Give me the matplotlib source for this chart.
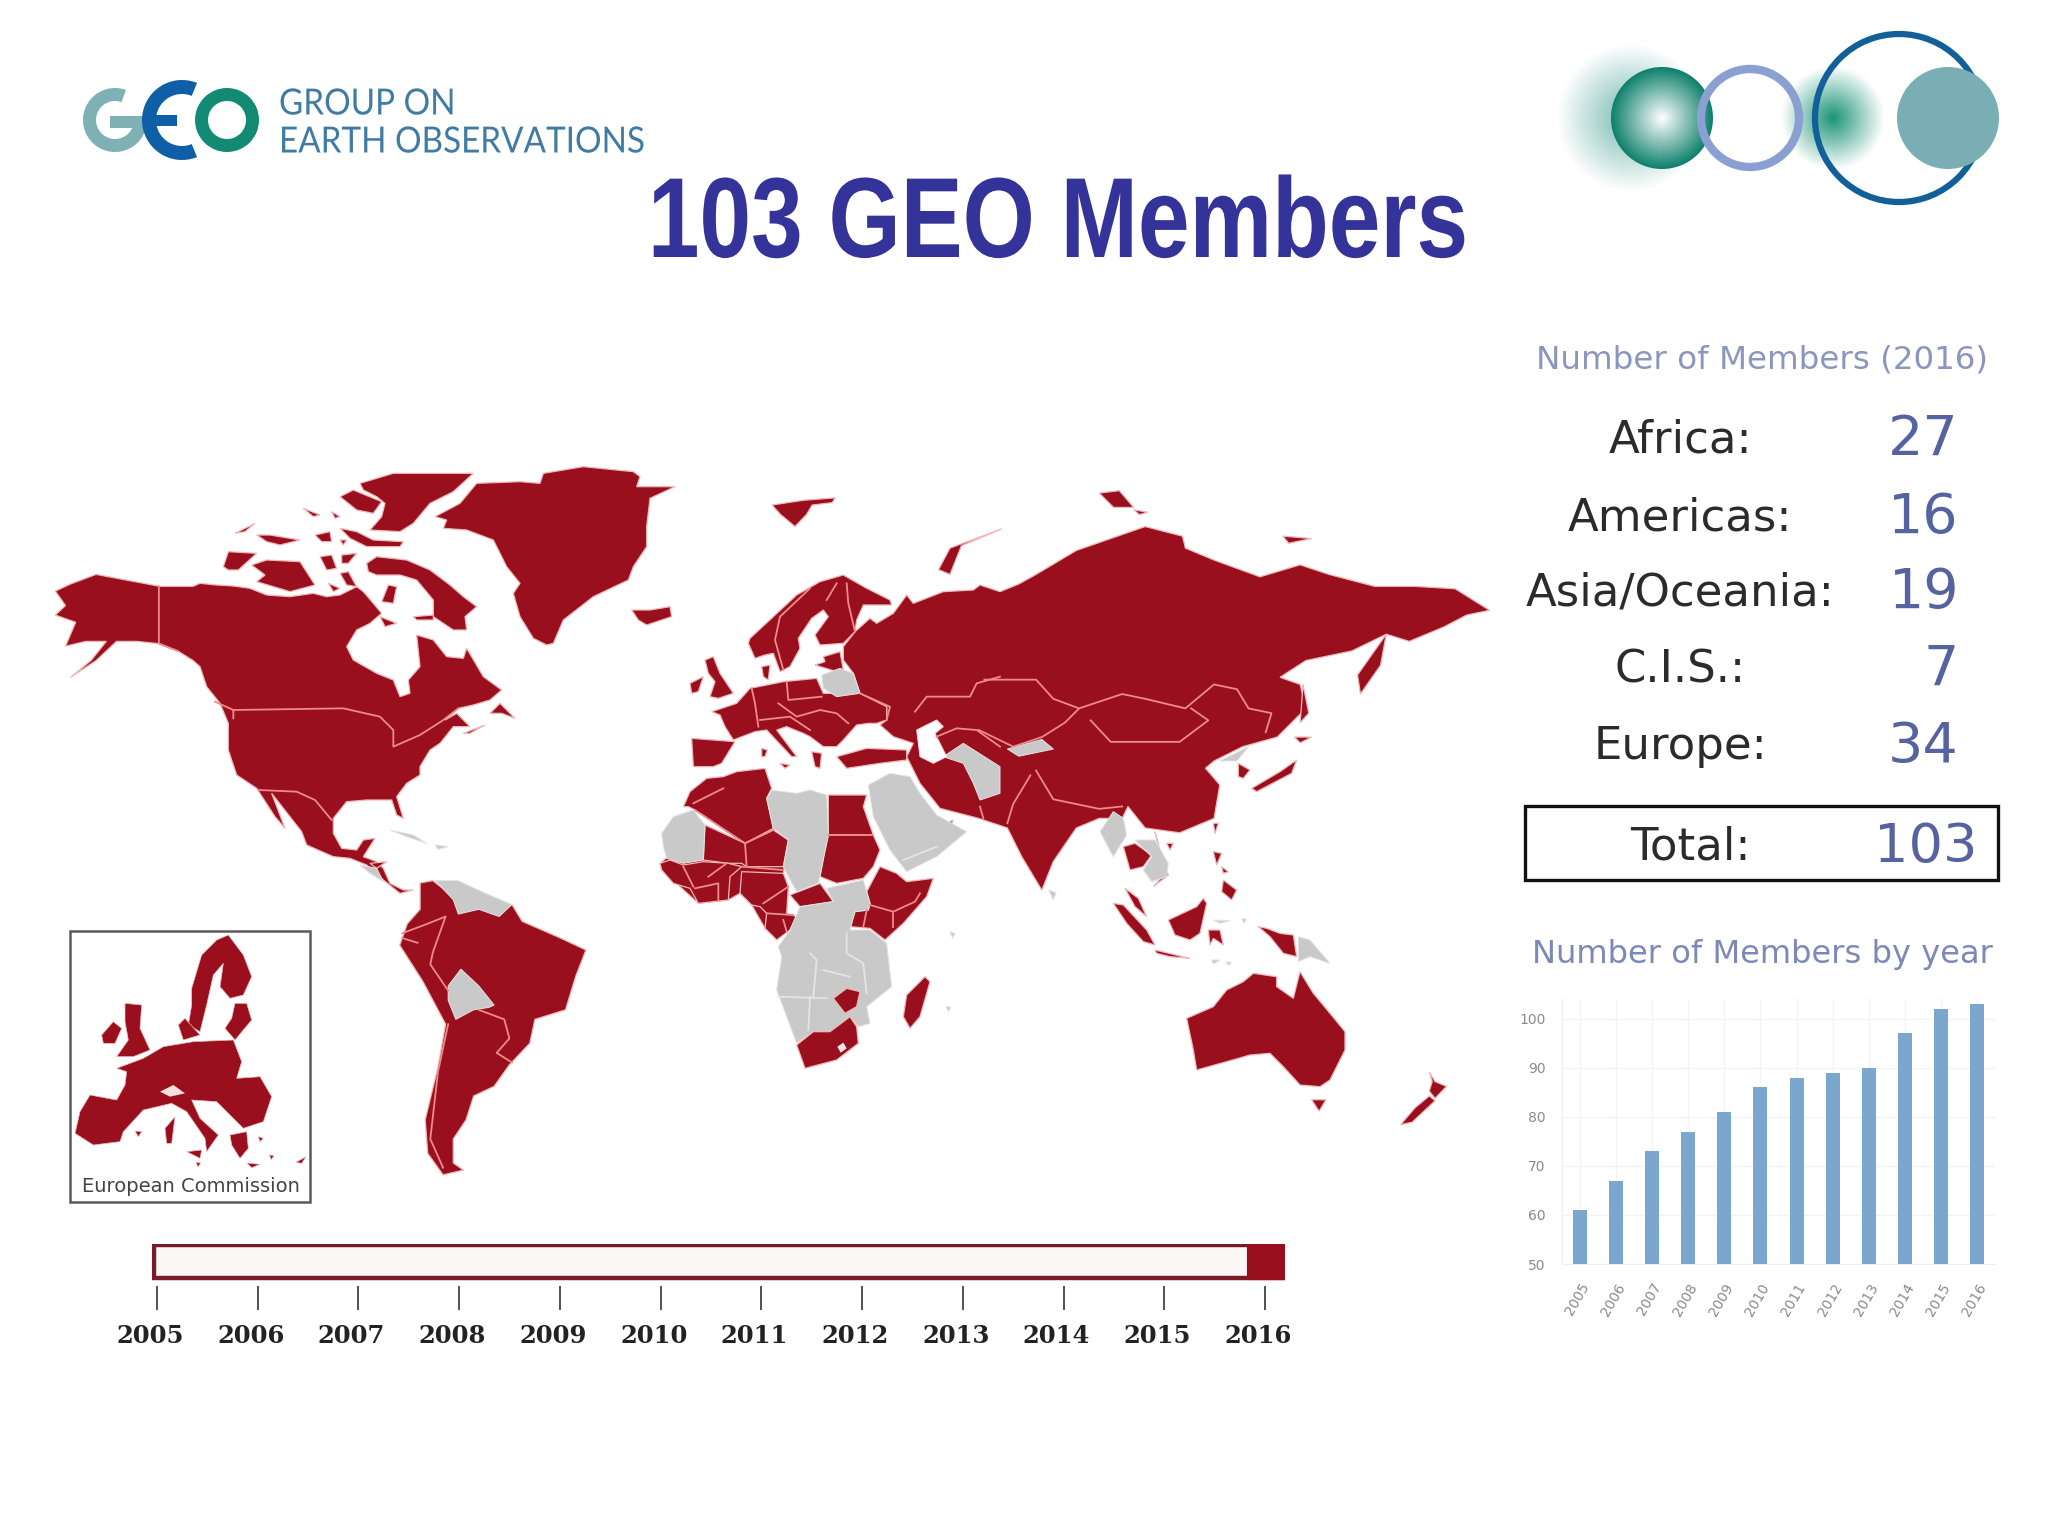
import numpy as np
import matplotlib
matplotlib.use('Agg')
import matplotlib.pyplot as plt
import matplotlib.patheffects as pe
from matplotlib.patches import Circle, Wedge, Rectangle
from matplotlib.transforms import Affine2D, ScaledTranslation

W, H = 2048, 1536
RED = '#9a0f1e'
GREY = '#c9c9c9'
BORDER = '#ec8a8c'

# bar chart data
years = list(range(2005, 2017))
members = [61, 67, 73, 77, 81, 86, 88, 89, 90, 97, 102, 103]

# table data
regions = ['Africa:', 'Americas:', 'Asia/Oceania:', 'C.I.S.:', 'Europe:']
region_counts = [27, 16, 19, 7, 34]
total = 103

# map outlines traced by hand from crops of the picture
# --- americas crop
alaska = [(300,440),(270,420),(235,405),(190,400),(150,400),(110,440),(60,475),(100,440),(130,400),(90,400),(50,410),
    (70,360),(30,345),(50,325),(30,295),(60,280),(110,260),(160,270),(235,285),(300,285)]
north_america = [(0,370),(50,375),(100,378),(150,385),(200,405),(270,410),(340,400),(380,410),(420,405),(470,380),(490,395),
    (520,430),(545,460),(510,490),(470,510),(440,560),(460,600),(530,640),(580,660),(600,710),(630,700),(625,660),(660,620),
    (650,525),(700,540),(740,590),(790,595),(800,565),(850,650),(905,690),(870,720),(820,735),(775,745),(735,780),(770,760),
    (810,800),(760,800),(720,850),(690,870),(660,920),(660,945),(620,970),(590,1010),(610,1075),(590,1065),(575,1020),
    (500,1020),(440,1025),(400,1075),(400,1120),(425,1165),(470,1170),(490,1140),(525,1135),(490,1190),(530,1205),(550,1225),
    (570,1270),(610,1290),(640,1290),(600,1300),(550,1260),(500,1215),(450,1195),(400,1190),(320,1155),(305,1115),(215,1000),
    (255,1105),(225,1070),(170,985),(110,945),(85,870),(85,790),(60,730),(20,680),(0,620)]
greenland = [(705,170),(780,130),(830,70),(960,65),(1020,70),(1030,40),(1150,20),(1300,35),(1320,50),(1310,80),(1425,80),
    (1350,115),(1340,200),(1340,260),(1300,320),(1285,360),(1180,410),(1090,480),(1060,550),(1040,555),(1000,535),(960,470),
    (940,400),(960,370),(920,320),(880,240),(800,210),(730,205),(740,180)]
arctic_islands = [
    [(480,70),(580,40),(820,40),(760,95),(690,130),(640,190),(600,215),(510,210),(545,170),(555,130),(530,110),(490,90)],
    [(420,110),(460,90),(545,125),(520,160),(470,150)],
    [(420,205),(470,215),(520,240),(610,245),(600,260),(500,260),(450,235)],
    [(500,310),(530,290),(620,300),(690,330),(750,375),(790,410),(830,440),(795,470),(800,510),(760,510),(700,470),(700,420),
     (650,360),(600,345),(530,345),(505,335)],
    [(155,315),(200,300),(300,305),(345,375),(270,395),(170,365),(195,345)],
    [(70,320),(85,275),(170,280),(115,330),(85,330)],
    [(170,225),(210,225),(300,240),(240,255),(200,245)],
    [(105,220),(165,190),(135,215)],
    [(345,225),(390,215),(395,245),(365,245)],
    [(360,290),(395,285),(410,325),(380,330)],
    [(425,285),(470,280),(445,310),(425,310)],
    [(420,340),(445,335),(470,380),(440,375)],
    [(565,375),(590,380),(580,430),(545,425)],
    [(540,470),(590,490),(555,500)],
    [(640,470),(700,465),(700,480),(650,480)],
    [(310,145),(360,165),(340,170)],
    [(395,155),(420,170),(405,175)],
    [(420,240),(440,240),(430,255)],
    [(385,370),(420,385),(400,395)],
    [(870,760),(900,730),(945,775),(905,760)],
    [(790,820),(855,795),(810,820)],
    [(1295,450),(1350,450),(1410,440),(1415,470),(1340,495),(1315,480)],
    [(510,1210),(560,1205),(530,1225)],
]
caribbean_grey = [
    [(570,1110),(640,1125),(680,1150),(620,1130)],
    [(705,1155),(745,1160),(715,1168)],
    [(480,1215),(530,1225),(550,1265),(510,1240)],
]
america_borders = [
    [(100,750),(430,745),(540,770),(580,810),(580,860),(660,825),(730,780),(775,745)],
    [(175,990),(290,995),(345,1020),(395,1080)],
    [(45,725),(100,750),(100,775)],
]
# --- west half crop, south america and alaska border
south_america = [(745,905),(770,900),(800,925),(860,960),(925,950),(945,985),(1020,1020),(1070,1045),(1050,1100),
    (1030,1170),(970,1190),(960,1240),(920,1285),(890,1330),(850,1350),(835,1400),(810,1440),(810,1490),(830,1505),
    (790,1515),(760,1470),(755,1400),(780,1290),(795,1200),(750,1110),(705,1035),(720,990),(745,960)]
sa_grey = [
    [(800,1120),(825,1085),(860,1120),(890,1160),(880,1165),(850,1170),(815,1190),(800,1150)],
    [(775,900),(820,900),(870,925),(925,950),(900,975),(860,960),(820,970),(810,940)],
]
west_borders = [
    [(233,285),(233,405),(270,420)],
    [(710,1010),(760,990),(795,975),(770,1050),(765,1075),(800,1130)],
    [(800,1200),(780,1300),(765,1440),(790,1500)],
    [(860,1170),(910,1190),(920,1230),(895,1260),(925,1280)],
    [(710,1020),(740,1030)],
]
# --- europe crop
asia_west = [(490,260),(525,215),(570,175),(590,190),(640,160),(680,105),(700,130),(790,95),(880,90),(900,75),(960,95)]
asia_south = [(780,745),(720,670),(690,610),(680,590),(700,550),(640,530),(600,495),(620,480),(620,440),(540,400),(520,340),(490,300)]
europe = [(95,455),(170,430),(210,385),(310,365),(410,355),(430,400),(540,400),(620,440),(620,480),(590,490),(565,490),(530,495),
    (490,540),(470,560),(430,560),(390,530),(370,520),(320,500),(290,510),(350,590),(335,590),(260,510),(225,515),(160,540),
    (135,500),(120,465)]
scandinavia = [(210,235),(280,170),(350,105),(420,65),(490,45),(560,85),(630,120),(635,135),(550,135),(530,180),(525,215),(490,250),
    (420,255),(405,225),(445,170),(430,150),(395,175),(355,235),(360,265),(330,320),(300,335),(280,280),(255,285),(225,295),(205,250)]
europe_red = [
    [(395,575),(425,580),(420,625),(405,620)],
    [(35,535),(165,545),(125,610),(100,620),(40,620)],
    [(75,300),(100,290),(120,340),(160,400),(115,415),(90,410),(105,365),(85,340)],
    [(30,370),(70,350),(55,395),(35,400)],
    [(245,320),(270,315),(265,360),(250,350)],
    [(430,290),(480,275),(490,330),(470,335),(405,315),(435,305)],
    [(470,590),(560,565),(680,570),(680,600),(600,610),(500,625)],
    [(245,565),(262,570),(255,590),(245,590)],
    [(300,610),(330,615),(315,625)],
]
europe_grey = [
    [(425,345),(480,325),(520,340),(540,400),(470,410),(430,385)],
    [(790,590),(850,550),(960,620),(960,700),(900,720),(880,670),(850,610)],
]
caspian = [(710,510),(770,480),(790,500),(765,520),(800,590),(760,610),(720,590)]
europe_borders = [
    [(390,85),(300,170),(285,240),(310,330)],
    [(470,70),(440,120)],
    [(500,70),(505,130),(525,215)],
    [(215,385),(225,430),(235,500)],
    [(320,365),(325,420),(425,410)],
    [(295,430),(350,470),(420,450),(470,460),(505,490)],
    [(240,480),(330,470),(390,510)],
    [(540,400),(630,440),(620,480)],
    [(705,455),(740,410),(870,410),(890,370),(960,350)],
    [(770,530),(830,505),(890,510),(960,560)],
    [(900,740),(910,775)],
]
# --- africa crop
west_africa_base = [(30,310),(165,195),(285,250),(415,240),(400,340),(415,380),(410,460),(345,505),(305,435),(270,400),(235,420),
    (145,430),(35,330)]
africa_red = [
    [(100,140),(120,95),(170,55),(220,50),(260,35),(345,25),(365,85),(350,115),(370,205),(285,250),(135,150),(115,140)],
    [(165,195),(285,250),(370,210),(415,240),(400,320),(290,320),(275,310),(235,310),(160,300)],
    [(30,310),(60,300),(100,315),(160,305),(235,310),(275,320),(240,350),(235,420),(145,430),(120,385),(70,370),(35,330)],
    [(275,335),(400,340),(415,380),(410,460),(440,470),(420,510),(380,540),(345,505),(350,460),(330,440),(305,435),(270,400)],
    [(420,405),(510,370),(550,425),(450,440)],
    [(535,105),(650,105),(640,140),(670,225),(535,225)],
    [(535,225),(670,225),(690,270),(670,320),(640,355),(560,370),(510,350),(520,290)],
    [(650,395),(690,320),(740,340),(770,365),(850,355),(830,410),(760,490),(705,540),(660,505),(600,500),(615,455),(655,450),(660,430)],
    [(825,650),(840,665),(810,770),(780,805),(760,770),(770,705)],
    [(860,205),(910,180),(900,205)],
]
africa_grey = [
    [(35,220),(70,170),(130,150),(165,195),(160,300),(100,310),(50,295),(40,260)],
    [(365,90),(440,100),(480,90),(530,105),(535,225),(510,350),(505,370),(440,395),(415,350),(400,320),(415,240),(370,205),(350,115)],
    [(385,560),(420,510),(450,440),(550,425),(530,385),(640,360),(660,430),(655,450),(615,455),(600,510),(660,510),(710,550),
     (725,680),(650,740),(660,790),(625,800),(600,770),(540,815),(490,815),(440,850),(395,730),(380,690),(395,590)],
    [(655,75),(720,40),(780,50),(810,100),(860,165),(905,190),(950,215),(860,290),(770,335),(720,270),(670,170)],
    [(900,515),(915,520),(908,535)],
    [(888,738),(903,742),(895,755)],
]
africa_south_red = [
    [(550,715),(590,685),(630,695),(620,740),(585,760)],
    [(440,855),(490,815),(540,815),(600,770),(620,800),(625,850),(560,900),(465,925)],
]
lesotho = [(562,860),(580,848),(590,865),(572,878)]
africa_borders = [
    [(130,130),(220,85)],
    [(135,150),(285,250),(290,320)],
    [(285,250),(370,210)],
    [(275,320),(400,330)],
    [(340,430),(415,380)],
    [(535,225),(670,225)],
    [(660,435),(730,455),(795,425),(810,400)],
    [(730,455),(730,500)],
    [(650,450),(640,500)],
    [(175,350),(230,310)],
    [(135,385),(205,370),(205,420)],
    [(100,320),(130,380)],
    [(350,460),(430,465)],
    [(400,480),(410,515)],
]
africa_grey_borders = [
    [(385,710),(530,715)],
    [(480,580),(500,600),(490,710)],
    [(480,710),(475,810)],
    [(590,520),(590,580),(640,610),(650,700)],
    [(520,630),(600,650)],
    [(760,300),(860,260)],
]
# --- south east asia crop
sea_red = [
    [(130,260),(165,250),(215,285),(190,320),(150,330)],
    [(225,215),(245,290),(265,345),(220,380),(255,340)],
    [(135,385),(175,415),(200,470),(165,440)],
    [(100,430),(130,435),(200,510),(225,555),(190,545),(140,490)],
    [(225,570),(330,595),(270,590),(230,580)],
    [(265,480),(350,440),(370,415),(380,430),(360,520),(330,540),(285,525)],
    [(385,510),(420,510),(430,555),(400,535),(390,555)],
    [(400,275),(425,280),(410,315)],
    [(430,360),(470,390),(455,420),(425,395)],
    [(425,320),(445,335),(430,340)],
    [(535,500),(560,505),(600,520),(640,525),(650,590),(610,580),(570,530)],
    [(400,190),(415,190),(405,220)],
    [(260,250),(280,250),(270,270)],
    [(320,775),(400,740),(440,690),(490,665),(520,640),(590,650),(590,680),(640,715),(660,635),(700,700),(750,760),(795,815),
     (795,870),(750,960),(720,980),(660,975),(610,920),(570,880),(510,885),(440,905),(350,930),(340,870)],
    [(475,10),(510,30),(490,55),(475,50)],
    [(515,85),(600,35),(650,0),(635,40),(530,95)],
]
sea_grey = [
    [(60,215),(100,155),(130,175),(140,225),(100,290)],
    [(165,240),(225,240),(265,310),(260,350),(215,365),(190,330),(215,290)],
    [(655,530),(690,540),(750,610),(690,590),(655,605)],
    [(485,475),(500,478),(492,490)],
    [(438,605),(455,608),(445,616)],
    [(395,600),(420,600),(400,612)],
    [(400,480),(450,482),(420,490)],
]
# --- east half crop, the rest of asia
asia_east = [(660,280),(690,260),(760,210),(820,185),(880,160),(945,180),(950,205),(1000,230),(1080,265),(1150,240),(1200,260),
    (1280,285),(1350,285),(1420,290),(1480,335),(1440,345),(1400,370),(1340,400),(1300,385),(1240,420),(1160,440),(1115,475),
    (1150,490),(1160,540),(1110,600),(1050,620),(1000,650),(985,665),(1010,700),(1000,770),(940,800),(880,790),(850,745),
    (840,770),(800,770),(760,790),(720,860),(700,920),(665,850),(640,790),(590,770)]
east_red = [
    [(1140,600),(1170,600),(1150,612)],
    [(1155,490),(1165,550),(1150,570)],
    [(1300,385),(1250,470),(1255,510),(1290,450)],
    [(520,250),(540,205),(630,165),(560,200),(540,260)],
    [(230,115),(285,105),(340,100),(335,110),(300,115),(290,135),(270,160),(245,135)],
    [(800,90),(835,85),(860,120),(825,120)],
    [(860,125),(885,130),(870,135)],
    [(1120,180),(1170,185),(1130,195)],
    [(1170,1358),(1195,1358),(1183,1382)],
    [(1375,1300),(1385,1320),(1405,1330),(1385,1355),(1375,1340),(1380,1320)],
    [(1325,1410),(1350,1375),(1375,1350),(1385,1360),(1345,1405)],
]
east_grey = [
    [(640,625),(700,605),(720,625),(660,640)],
    [(1010,650),(1060,620),(1040,650)],
    [(712,920),(725,925),(720,940)],
]
east_borders = [
    [(600,480),(690,480),(720,520),(765,540),(740,570),(700,600),(650,620),(590,585)],
    [(765,540),(840,510),(880,520),(950,540),(1000,490),(1040,500),(1060,540),(1100,550),(1090,590)],
    [(785,565),(820,610),(880,610),(940,610),(990,565),(960,540)],
    [(690,670),(720,730),(800,750),(840,745)],
    [(680,680),(650,740),(640,780)],
]

# inset map of the european commission
inset_shapes = [
    [(395,190),(425,90),(470,45),(505,30),(550,90),(575,155),(550,210),(510,220),(480,185),(490,115),(460,150),(440,240),(420,320),(385,300),(395,240)],
    [(525,235),(560,235),(575,285),(525,345),(495,310),(515,280)],
    [(170,430),(250,400),(310,365),(400,350),(520,345),(545,410),(530,460),(600,455),(635,515),(610,590),(550,610),(520,580),(470,530),
     (395,525),(420,580),(475,630),(440,680),(435,640),(380,560),(335,535),(250,555),(190,620),(180,650),(100,660),(45,625),(60,560),
     (90,510),(170,525),(195,480),(200,440)],
    [(195,235),(245,240),(240,310),(270,375),(220,395),(170,395),(205,345),(195,290)],
    [(125,330),(160,290),(185,310),(165,355),(130,355)],
    [(355,300),(375,280),(420,330),(370,345)],
    [(510,630),(560,620),(565,670),(540,700),(515,660)],
    [(380,680),(425,675),(420,700)],
    [(315,610),(345,575),(335,655),(320,655)],
    [(225,618),(245,620),(235,635)],
    [(408,712),(422,714),(414,726)],
    [(595,635),(610,640),(600,650)],
    [(628,690),(642,692),(634,704)],
    [(708,712),(738,695),(725,715)],
    [(560,714),(600,718),(575,728)],
]
inset_hole = [(300,500),(340,480),(375,505),(330,515)]


def crop(ox, oy, points):
    # crops are 3x, so divide back to picture pixels
    p = np.array(points, dtype=float)
    return np.c_[ox + p[:, 0] / 3, oy + p[:, 1] / 3]


def americas(points):
    return crop(200, 460, points)


def eur(points):
    return crop(680, 560, points)


def afr(points):
    return crop(650, 760, points)


def sea(points):
    return crop(1080, 760, points)


def inset(points):
    return crop(60, 925, points)


def west(points):
    p = np.array(points, dtype=float)
    return np.c_[40 + p[:, 0] / 1.96, 450 + p[:, 1] / 2.09]


def east(points):
    p = np.array(points, dtype=float)
    return np.c_[640 + p[:, 0] / 1.742, 450 + p[:, 1] / 2.09]


def fill_red(ax, pts, zorder=2):
    ax.fill(pts[:, 0], pts[:, 1], facecolor=RED, edgecolor='#f0b8b8', linewidth=0.9, zorder=zorder)


def fill_grey(ax, pts, zorder=2):
    ax.fill(pts[:, 0], pts[:, 1], facecolor=GREY, edgecolor='#e4e4e4', linewidth=0.7, zorder=zorder)


def line(ax, pts, color=BORDER):
    ax.plot(pts[:, 0], pts[:, 1], color=color, lw=1.3, zorder=3)


def radial(ax, cx, cy, r, inner, outer, clip=None, zorder=1):
    n = 200
    yy, xx = np.mgrid[-1:1:n*1j, -1:1:n*1j]
    d = np.clip(np.hypot(xx, yy), 0, 1)[..., None]
    img = np.array(inner)[None, None, :] * (1 - d) + np.array(outer)[None, None, :] * d
    im = ax.imshow(img, extent=(cx - r, cx + r, cy + r, cy - r), zorder=zorder, interpolation='bilinear')
    if clip is not None:
        im.set_clip_path(clip)


class Squeeze(pe.AbstractPathEffect):
    # narrow a text around x = cx, there is no narrow Arial here
    def __init__(self, cx, sx):
        super().__init__()
        self.cx = cx
        self.sx = sx

    def draw_path(self, renderer, gc, tpath, affine, rgbFace=None):
        squeezed = affine + Affine2D().translate(-self.cx, 0).scale(self.sx, 1).translate(self.cx, 0)
        renderer.draw_path(gc, tpath, squeezed, rgbFace)


fig = plt.figure(figsize=(W / 100, H / 100), dpi=100)
fig.patch.set_facecolor('white')
ax = fig.add_axes([0, 0, 1, 1])

# world map
fill_red(ax, np.vstack([west(alaska), americas(north_america)]))
fill_red(ax, americas(greenland))
for s in arctic_islands:
    fill_red(ax, americas(s))
for s in caribbean_grey:
    fill_grey(ax, americas(s))
for s in america_borders:
    line(ax, americas(s))
fill_red(ax, west(south_america))
for s in sa_grey:
    fill_grey(ax, west(s))
for s in west_borders:
    line(ax, west(s))

fill_red(ax, np.vstack([eur(asia_west), east(asia_east), eur(asia_south)]))
fill_red(ax, eur(europe))
fill_red(ax, eur(scandinavia))
for s in europe_red:
    fill_red(ax, eur(s))
for s in europe_grey:
    fill_grey(ax, eur(s))
p = eur(caspian)
ax.fill(p[:, 0], p[:, 1], facecolor='white', edgecolor='#f6d8d8', lw=0.7, zorder=2)
for s in east_red:
    fill_red(ax, east(s))
for s in east_grey:
    fill_grey(ax, east(s))
fill_red(ax, afr(west_africa_base))
for s in africa_red:
    fill_red(ax, afr(s))
for s in africa_grey:
    fill_grey(ax, afr(s))
for s in africa_south_red:
    fill_red(ax, afr(s))
p = afr(lesotho)
ax.fill(p[:, 0], p[:, 1], facecolor='#f8e8e8', edgecolor='none', zorder=3)
for s in sea_red:
    fill_red(ax, sea(s))
for s in sea_grey:
    fill_grey(ax, sea(s))
for s in europe_borders:
    line(ax, eur(s))
for s in east_borders:
    line(ax, east(s))
for s in africa_borders:
    line(ax, afr(s))
for s in africa_grey_borders:
    line(ax, afr(s), color='#e4e4e4')

# inset
ax.add_patch(Rectangle((70, 931), 240, 271, facecolor='white', edgecolor='#5a5a5a', lw=1.8, zorder=4))
for s in inset_shapes:
    p = inset(s)
    ax.fill(p[:, 0], p[:, 1], facecolor=RED, edgecolor='#f0b8b8', lw=0.5, zorder=5)
p = inset(inset_hole)
ax.fill(p[:, 0], p[:, 1], facecolor='#f8e0e0', edgecolor='none', zorder=6)
ax.text(191, 1187, 'European Commission', ha='center', va='center', fontsize=14, color='#444444', zorder=6)

# GEO logo
ax.add_patch(Wedge((227, 120), 32, 0, 360, width=13, facecolor='#138a74', edgecolor='none'))
ax.add_patch(Wedge((115, 120), 32, 10, 290, width=13, facecolor='#7fb0b4', edgecolor='none'))
ax.add_patch(Rectangle((110, 116), 40, 12, facecolor='#7fb0b4', edgecolor='none'))
ax.add_patch(Wedge((182, 120), 40, 68, 292, width=14, facecolor='#0f5fa8', edgecolor='none'))
ax.add_patch(Rectangle((150, 115), 27, 11, facecolor='#0f5fa8', edgecolor='none'))
for label, y in [('GROUP ON', 104), ('EARTH OBSERVATIONS', 142)]:
    ax.text(279, y, label, fontsize=26, color='#3f7ba3', va='center', family='Lato',
            path_effects=[Squeeze(279, 0.92)])

# circles logo
radial(ax, 1631, 118, 74, (0.45, 0.72, 0.68), (1, 1, 1))
radial(ax, 1833, 118, 52, (0.10, 0.58, 0.46), (1, 1, 1))
sphere = Circle((1662, 118), 51, transform=ax.transData)
radial(ax, 1662, 118, 51, (1, 1, 1), (0.05, 0.50, 0.42), clip=sphere, zorder=2)
ax.add_patch(Circle((1750, 118), 49, fill=False, edgecolor='#8a9fd2', lw=6, zorder=3))
ax.add_patch(Circle((1899, 118), 84, fill=False, edgecolor='#11609a', lw=4.5, zorder=4))
ax.add_patch(Circle((1948, 118), 51, facecolor='#78aeb4', edgecolor='none', zorder=5))

# title
ax.text(1058, 228, '103 GEO Members', ha='center', va='center', fontsize=82, fontweight='bold', color='#333399',
        family='Liberation Sans', path_effects=[Squeeze(1058, 0.815)], zorder=6)

# members table
ax.text(1762, 360, 'Number of Members (2016)', ha='center', va='center', fontsize=23.4, color='#8a96bd')
row_y = [440, 518, 593, 670, 747]
for name, count, y in zip(regions, region_counts, row_y):
    ax.text(1680, y, name, ha='center', va='center', fontsize=32.4, color='#2b2b2b')
    ax.text(1959, y, str(count), ha='right', va='center', fontsize=40, color='#5563a0')
ax.add_patch(Rectangle((1525, 806), 473, 74, facecolor='none', edgecolor='#111111', lw=2.4))
ax.text(1690, 847, 'Total:', ha='center', va='center', fontsize=32.4, color='#2b2b2b')
ax.text(1978, 847, str(total), ha='right', va='center', fontsize=39, color='#5563a0')
ax.text(1762, 954, 'Number of Members by year', ha='center', va='center', fontsize=23.1, color='#7c89b8')

ax.set_xlim(0, W)
ax.set_ylim(H, 0)
ax.axis('off')

# bar chart
left, right, top, bottom = 1562, 1995, 999, 1264
bar_ax = fig.add_axes([left / W, 1 - bottom / H, (right - left) / W, (bottom - top) / H])
x = np.arange(len(years))
bar_ax.bar(x, members, width=0.39, color='#7ba7cf', zorder=3)
bar_ax.set_xlim(-0.5, len(years) - 0.5)
bar_ax.set_ylim(50, 104)
bar_ax.set_yticks([50, 60, 70, 80, 90, 100])
bar_ax.set_xticks(x)
bar_ax.set_xticklabels(years, rotation=60, ha='right', rotation_mode='anchor', fontsize=10, color='#8a8a8a')
bar_ax.tick_params(axis='y', labelsize=10, labelcolor='#8a8a8a', length=0, pad=12)
bar_ax.tick_params(axis='x', length=0, pad=12)
bar_ax.grid(True, color='#f3f3f3', lw=1, zorder=0)
bar_ax.set_facecolor('none')
for side in ['top', 'right', 'left', 'bottom']:
    bar_ax.spines[side].set_color('#eeeeee')
bar_ax.spines['top'].set_visible(False)
bar_ax.spines['right'].set_visible(False)

# timeline slider
tl_left, tl_right, tl_top, tl_bottom = 152, 1285, 1244, 1286
tl = fig.add_axes([tl_left / W, 1 - tl_bottom / H, (tl_right - tl_left) / W, (tl_bottom - tl_top) / H])
tl.set_xlim(2004.950, 2016.199)
tl.set_ylim(0, 1)
tl.axvspan(2004.97, 2016.18, ymin=0.19, ymax=0.97, facecolor='#fbf8f8', edgecolor='#7d1a2a', lw=3.2)
tl.axvspan(2015.84, 2016.18, ymin=0.19, ymax=0.97, facecolor=RED, edgecolor=RED, lw=3)
tl.set_yticks([])
tl.set_xticks(years)
tl.set_xticklabels(years, fontsize=17.5, fontweight='bold', family='DejaVu Serif', color='#222222')
tl.tick_params(axis='x', length=17, width=1.2, color='#333333', pad=10.5)
shift = ScaledTranslation(-5 / 72, 0, fig.dpi_scale_trans)
for lab in tl.get_xticklabels():
    lab.set_transform(lab.get_transform() + shift)
for side in tl.spines:
    tl.spines[side].set_visible(False)
tl.set_facecolor('none')

plt.savefig('out.png', dpi=100)
